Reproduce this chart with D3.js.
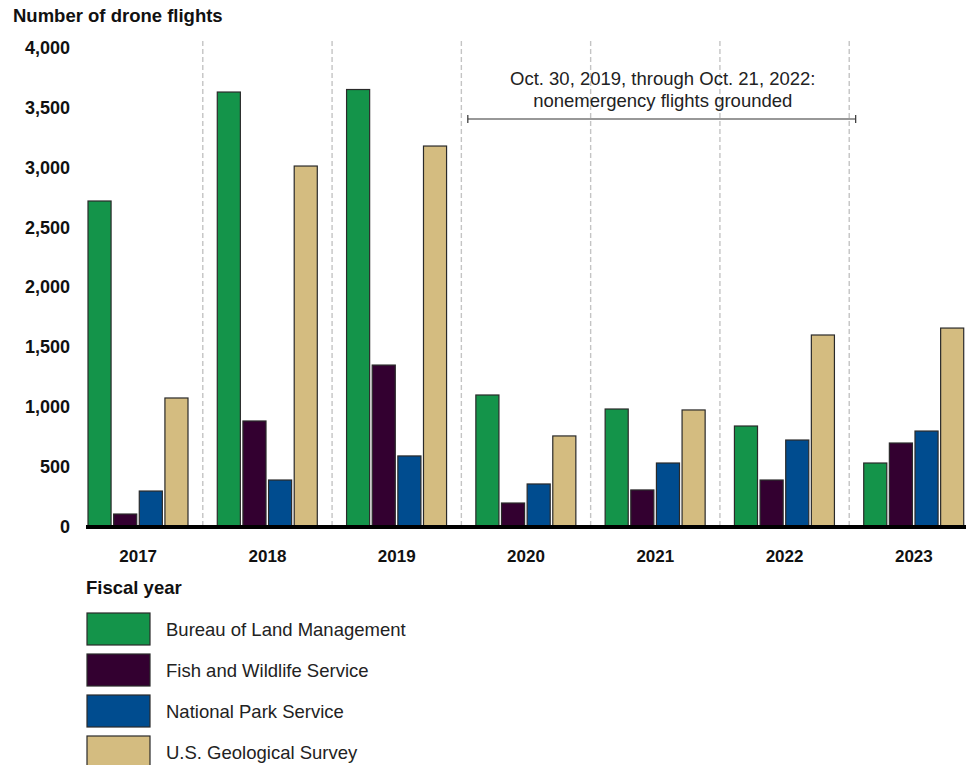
<!DOCTYPE html>
<html>
<head>
<meta charset="utf-8">
<script src="https://cdn.jsdelivr.net/npm/d3@7"></script>
<style>
  html, body { margin: 0; padding: 0; background: #fff; }
  svg { display: block; font-family: "Liberation Sans", Arial, sans-serif; }
</style>
</head>
<body>
<svg id="chart" width="966" height="765"></svg>
<script>
const years = ["2017", "2018", "2019", "2020", "2021", "2022", "2023"];
const seriesNames = ["Bureau of Land Management", "Fish and Wildlife Service", "National Park Service", "U.S. Geological Survey"];
const blm  = [2714, 3624, 3645, 1094, 977, 835, 526];
const fws  = [100, 877, 1344, 192, 301, 384, 693];
const nps  = [292, 384, 585, 351, 526, 718, 793];
const usgs = [1069, 3006, 3173, 752, 969, 1595, 1653];
const colors = ["#14944a", "#330030", "#004c8f", "#d4bc80"];
const yTicks = [0, 500, 1000, 1500, 2000, 2500, 3000, 3500, 4000];
const annotationLines = ["Oct. 30, 2019, through Oct. 21, 2022:", "nonemergency flights grounded"];
const annotationSpan = [["2020", 0.05], ["2023", 0.05]];

const values = [blm, fws, nps, usgs];
const svg = d3.select("#chart");

const x0 = d3.scaleBand().domain(years).range([73.5, 978.5]).paddingInner(0).paddingOuter(0);
const x1 = d3.scaleBand().domain(seriesNames).range([14.5, 114.5]).paddingInner(0.1);
const y = d3.scaleLinear().domain([0, 4000]).range([526, 47]);

// dashed separators between years
svg.append("g").selectAll("line")
  .data(years.slice(1))
  .join("line")
  .attr("x1", d => x0(d)).attr("x2", d => x0(d))
  .attr("y1", 41).attr("y2", 525)
  .attr("stroke", "#c4c4c4")
  .attr("stroke-width", 1.4)
  .attr("stroke-dasharray", "5,3");

// y axis
const yAxis = d3.axisLeft(y).tickValues(yTicks).tickSize(0).tickPadding(0).tickFormat(d3.format(","));
const gy = svg.append("g").attr("transform", "translate(70,0)").call(yAxis);
gy.select(".domain").remove();
gy.selectAll("text")
  .attr("font-size", 18).attr("font-weight", "bold").attr("fill", "#111")
  .attr("font-family", "Liberation Sans, Arial, sans-serif")
  .attr("dy", "0.36em");

// title
svg.append("text").attr("x", 13).attr("y", 22)
  .attr("font-size", 18.5).attr("font-weight", "bold").attr("fill", "#111")
  .text("Number of drone flights");

// bars
const groups = svg.append("g").selectAll("g")
  .data(years)
  .join("g")
  .attr("transform", d => `translate(${x0(d)},0)`);

groups.selectAll("rect")
  .data((d, i) => seriesNames.map((s, j) => ({ s, j, v: values[j][i] })))
  .join("rect")
  .attr("x", d => x1(d.s))
  .attr("width", x1.bandwidth())
  .attr("y", d => y(d.v))
  .attr("height", d => y(0) - y(d.v))
  .attr("fill", d => colors[d.j])
  .attr("stroke", "#2a2a2a")
  .attr("stroke-width", 1.2);

// baseline
svg.append("line")
  .attr("x1", 86).attr("x2", 966)
  .attr("y1", y(0) + 1).attr("y2", y(0) + 1)
  .attr("stroke", "#000").attr("stroke-width", 4);

// x axis labels
const xAxis = d3.axisBottom(x0).tickSize(0).tickPadding(0);
const gx = svg.append("g").attr("transform", "translate(0,556)").call(xAxis);
gx.select(".domain").remove();
gx.selectAll("text")
  .attr("font-size", 17).attr("font-weight", "bold").attr("fill", "#111")
  .attr("font-family", "Liberation Sans, Arial, sans-serif")
  .attr("dy", "0.36em");

// annotation
const ax1 = x0(annotationSpan[0][0]) + x0.step() * annotationSpan[0][1];
const ax2 = x0(annotationSpan[1][0]) + x0.step() * annotationSpan[1][1];
const ay = 119;
const ann = svg.append("g").attr("stroke", "#333").attr("stroke-width", 1.2);
ann.append("line").attr("x1", ax1).attr("x2", ax2).attr("y1", ay).attr("y2", ay);
ann.append("line").attr("x1", ax1).attr("x2", ax1).attr("y1", ay - 4).attr("y2", ay + 4);
ann.append("line").attr("x1", ax2).attr("x2", ax2).attr("y1", ay - 4).attr("y2", ay + 4);
svg.append("g").selectAll("text")
  .data(annotationLines)
  .join("text")
  .attr("x", (ax1 + ax2) / 2 + 1)
  .attr("y", (d, i) => 85 + i * 22)
  .attr("text-anchor", "middle")
  .attr("font-size", 18.5)
  .attr("fill", "#222")
  .text(d => d);

// legend
svg.append("text").attr("x", 86).attr("y", 594)
  .attr("font-size", 18.5).attr("font-weight", "bold").attr("fill", "#111")
  .text("Fiscal year");

const leg = svg.append("g").selectAll("g")
  .data(seriesNames)
  .join("g")
  .attr("transform", (d, i) => `translate(0,${613 + i * 41})`);
leg.append("rect")
  .attr("x", 87).attr("y", 0).attr("width", 63).attr("height", 32)
  .attr("fill", (d, i) => colors[i])
  .attr("stroke", "#2a2a2a").attr("stroke-width", 1.2);
leg.append("text")
  .attr("x", 166).attr("y", 23)
  .attr("font-size", 18.5).attr("fill", "#222")
  .text(d => d);
</script>
</body>
</html>
